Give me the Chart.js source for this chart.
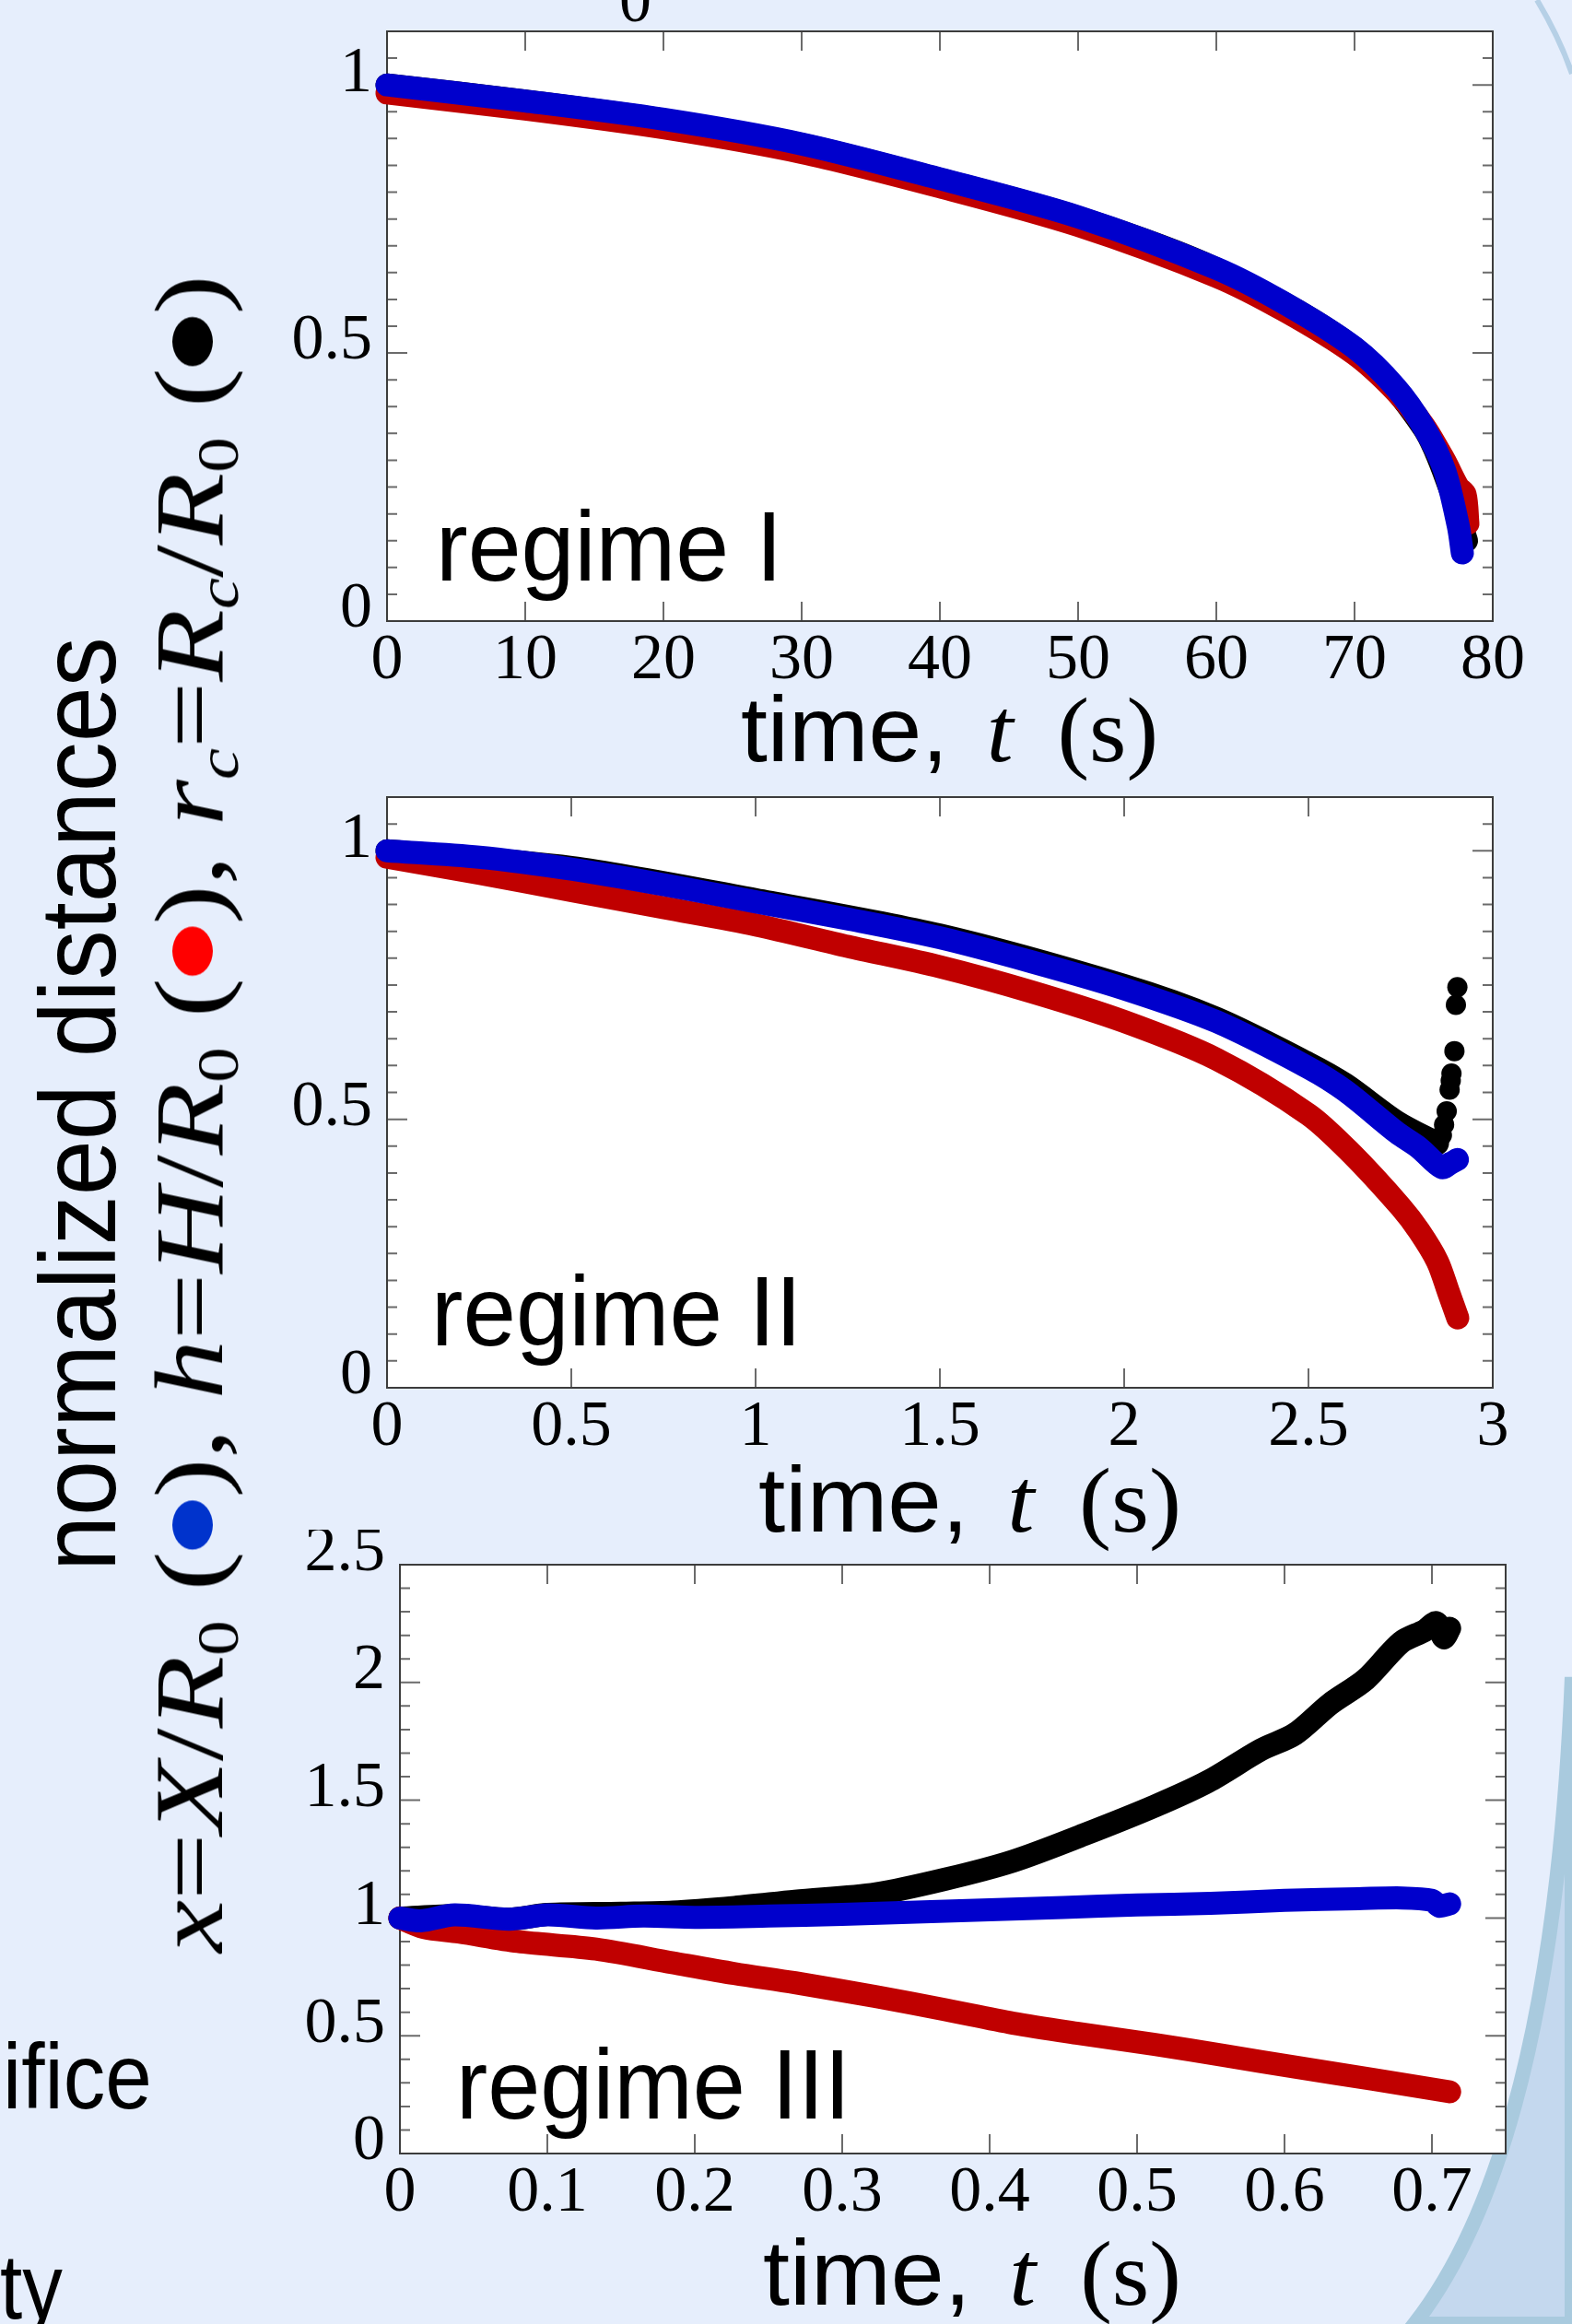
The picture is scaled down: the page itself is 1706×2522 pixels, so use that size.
<!DOCTYPE html>
<html>
<head>
<meta charset="utf-8">
<script src="https://cdn.jsdelivr.net/npm/chart.js@4.4.1/dist/chart.umd.min.js"></script>
<style>
  html, body { margin: 0; padding: 0; }
  body {
    width: 1706px; height: 2522px; position: relative; overflow: hidden;
    background: #e6eefc;
    font-family: "Liberation Sans", Arial, sans-serif;
  }
  canvas.panel { position: absolute; left: 0; }
  .txt { position: absolute; white-space: nowrap; line-height: 1; color: #000; transform-origin: 0 0; }
  .serif { font-family: "Liberation Serif", "DejaVu Serif", serif; }
  .rot { transform: rotate(-90deg); }
  .sub { font-size: 0.6em; vertical-align: -0.27em; line-height: 0; }
  .par { line-height: 0; }
  .dot { display: inline-block; width: 44px; height: 44px; border-radius: 50%; vertical-align: 10px; margin: 0 2px; }
  #deco { position: absolute; left: 0; top: 0; }
</style>
</head>
<body>

<svg id="deco" width="1706" height="2522">
  <path d="M1706,1820 Q1685,2330 1535,2522 L1706,2522 Z" fill="#c4d8ee" stroke="#a9cade" stroke-width="16"/>
  <path d="M1668,0 Q1692,40 1706,80" fill="none" stroke="#b6d0e6" stroke-width="6"/>
</svg>

<canvas id="c1" class="panel" style="top:0px" width="1706" height="780"></canvas>
<canvas id="c2" class="panel" style="top:830px" width="1706" height="780"></canvas>
<canvas id="c3" class="panel" style="top:1660px" width="1706" height="780"></canvas>

<!-- cut-off bits of the poster around the figure -->
<div class="txt serif" style="left:672px; top:-35px; font-size:70px;">0</div>
<div class="txt" id="ifice" style="left:3px; top:2203px; font-size:100px;">ifice</div>
<div class="txt" id="ty" style="left:0px; top:2431px; font-size:100px;">ty</div>

<!-- rotated y labels -->
<div class="txt rot" id="ylab1" style="left:27px; top:1705px; font-size:116px;">normalized distances</div>
<div class="txt rot serif" id="ylab2" style="left:153px; top:2119px; font-size:106px;"><i>x</i>=<i>X</i>/<i>R</i><span class="sub">0</span>&nbsp;<span class="par">(</span><span class="dot" style="background:#0033cc"></span><span class="par">)</span>, <i>h</i>=<i>H</i>/<i>R</i><span class="sub">0</span>&nbsp;<span class="par">(</span><span class="dot" style="background:#ff0000"></span><span class="par">)</span>, <i>r</i><span class="sub"><i>c</i></span>=<i>R</i><span class="sub"><i>c</i></span>/<i>R</i><span class="sub">0</span>&nbsp;<span class="par">(</span><span class="dot" style="background:#000000"></span><span class="par">)</span></div>

<!-- x titles -->
<div class="txt" id="xt1" style="left:804px; top:741px; font-size:100px;">time,<span class="serif" style="margin-left:40px"><i>t</i></span><span class="serif" style="margin-left:46px">(s)</span></div>
<div class="txt" id="xt2" style="left:823px; top:1577px; font-size:100px;">time,<span class="serif" style="margin-left:40px"><i>t</i></span><span class="serif" style="margin-left:46px">(s)</span></div>
<div class="txt" id="xt3" style="left:828px; top:2416px; font-size:100px;">time,<span class="serif" style="margin-left:40px"><i>t</i></span><span class="serif" style="margin-left:46px">(s)</span></div>

<!-- regime labels -->
<div class="txt" id="rg1" style="left:473px; top:539px; font-size:108px;">regime I</div>
<div class="txt" id="rg2" style="left:468px; top:1369px; font-size:108px;">regime II</div>
<div class="txt" id="rg3" style="left:495px; top:2208px; font-size:108px;">regime III</div>

<script>
// ---- regime I (t up to ~78 s) ----
const T1_BLUE  = [0, 10, 20, 30, 40, 50, 60, 65, 70, 73, 75, 76.5, 77.5, 77.8];
const V1_BLUE  = [1.0, 0.970, 0.936, 0.890, 0.825, 0.754, 0.658, 0.592, 0.510, 0.435, 0.362, 0.282, 0.178, 0.127];
const T1_RED   = [0, 10, 20, 30, 40, 50, 60, 65, 70, 73, 75, 76.5, 77.5, 78.0, 78.2];
const V1_RED   = [0.985, 0.955, 0.920, 0.874, 0.810, 0.738, 0.643, 0.578, 0.498, 0.428, 0.365, 0.300, 0.250, 0.236, 0.182];
const T1_BLACK = [0, 10, 20, 30, 40, 50, 60, 70, 75, 77, 78.1];
const V1_BLACK = [1.0, 0.970, 0.935, 0.889, 0.824, 0.753, 0.657, 0.509, 0.360, 0.240, 0.150];

// ---- regime II (t up to ~2.9 s) ----
const T2_BLUE  = [0, 0.25, 0.5, 0.75, 1.0, 1.25, 1.5, 1.75, 2.0, 2.25, 2.5, 2.6, 2.74, 2.8, 2.862, 2.885, 2.904];
const V2_BLUE  = [1.0, 0.988, 0.966, 0.937, 0.905, 0.873, 0.838, 0.793, 0.743, 0.682, 0.596, 0.553, 0.475, 0.447, 0.410, 0.418, 0.425];
const T2_RED   = [0, 0.25, 0.5, 0.75, 1.0, 1.25, 1.5, 1.75, 2.0, 2.25, 2.5, 2.617, 2.75, 2.8, 2.85, 2.88, 2.905];
const V2_RED   = [0.988, 0.958, 0.926, 0.894, 0.862, 0.822, 0.784, 0.737, 0.682, 0.612, 0.509, 0.436, 0.337, 0.292, 0.235, 0.178, 0.130];
const T2_BLACK = [0, 0.5, 1.0, 1.5, 2.0, 2.25, 2.5, 2.6, 2.74, 2.85];
const V2_BLACK = [1.0, 0.969, 0.909, 0.843, 0.749, 0.688, 0.604, 0.565, 0.495, 0.455];
const T2_BLACK_DOTS = [2.862, 2.868, 2.875, 2.883, 2.886, 2.888, 2.896, 2.9, 2.904];
const V2_BLACK_DOTS = [0.470, 0.490, 0.515, 0.555, 0.572, 0.585, 0.627, 0.713, 0.746];

// ---- regime III (t up to ~0.71 s) ----
const T3_BLUE  = [0, 0.014, 0.037, 0.074, 0.1, 0.133, 0.165, 0.2, 0.25, 0.3, 0.35, 0.4, 0.45, 0.5, 0.55, 0.6, 0.65, 0.68, 0.7, 0.705, 0.712];
const V3_BLUE  = [1.0, 0.988, 1.013, 0.995, 1.013, 1.0, 1.008, 1.003, 1.008, 1.015, 1.025, 1.035, 1.045, 1.055, 1.062, 1.075, 1.082, 1.085, 1.075, 1.05, 1.06];
const T3_RED   = [0, 0.016, 0.04, 0.08, 0.133, 0.185, 0.227, 0.268, 0.323, 0.37, 0.416, 0.46, 0.512, 0.56, 0.607, 0.66, 0.712];
const V3_RED   = [1.0, 0.96, 0.94, 0.90, 0.868, 0.81, 0.764, 0.725, 0.666, 0.61, 0.553, 0.51, 0.463, 0.415, 0.367, 0.315, 0.262];
const T3_BLACK = [0, 0.04, 0.074, 0.1, 0.15, 0.185, 0.227, 0.268, 0.323, 0.37, 0.416, 0.464, 0.512, 0.548, 0.584, 0.607, 0.631, 0.655, 0.679, 0.695, 0.703, 0.708, 0.712];
const V3_BLACK = [1.0, 1.01, 0.995, 1.015, 1.02, 1.025, 1.045, 1.071, 1.103, 1.165, 1.242, 1.354, 1.475, 1.579, 1.714, 1.781, 1.909, 2.013, 2.17, 2.22, 2.254, 2.19, 2.23];

// tick values
const X_TICKS_1 = [0, 10, 20, 30, 40, 50, 60, 70, 80];
const X_TICKS_2 = [0, 0.5, 1, 1.5, 2, 2.5, 3];
const X_TICKS_3 = [0, 0.1, 0.2, 0.3, 0.4, 0.5, 0.6, 0.7];
const Y_TICKS_1 = [0, 0.5, 1];
const Y_TICKS_3 = [0, 0.5, 1, 1.5, 2, 2.5];

const BLUE = '#0000cc';
const RED = '#c00000';
const BLACK = '#000000';
const TICK_FONT = { family: "'Liberation Serif', 'DejaVu Serif', serif", size: 70, lineHeight: 1 };
const Y_AXIS_W = 120;
const BAND_W = 25;

function pts(ts, vs) {
  return ts.map((t, i) => ({ x: t, y: vs[i] }));
}

function band(ts, vs, color) {
  return {
    data: pts(ts, vs),
    showLine: true,
    borderColor: color,
    borderWidth: BAND_W,
    borderCapStyle: 'round',
    borderJoinStyle: 'round',
    tension: 0.3,
    pointRadius: 0,
    clip: false
  };
}

// white plot area, inward ticks on all four sides, frame
const axesFrame = {
  id: 'axesFrame',
  beforeDatasetsDraw(chart, args, opts) {
    const { ctx, chartArea: a } = chart;
    const xs = chart.scales.x, ys = chart.scales.y;
    ctx.save();
    ctx.fillStyle = '#ffffff';
    ctx.fillRect(a.left, a.top, a.right - a.left, a.bottom - a.top);

    ctx.strokeStyle = '#6b6b6b';
    ctx.lineWidth = 2;
    ctx.beginPath();
    xs.ticks.forEach(t => {
      const px = xs.getPixelForValue(t.value);
      ctx.moveTo(px, a.bottom); ctx.lineTo(px, a.bottom - 21);
      ctx.moveTo(px, a.top); ctx.lineTo(px, a.top + 21);
    });
    const n = Math.round((ys.max - ys.min) / opts.minor);
    for (let i = 0; i <= n; i++) {
      const v = ys.min + i * opts.minor;
      const py = ys.getPixelForValue(v);
      const r = v / opts.major;
      const len = Math.abs(r - Math.round(r)) < 1e-6 ? 22 : 11;
      ctx.moveTo(a.left, py); ctx.lineTo(a.left + len, py);
      ctx.moveTo(a.right, py); ctx.lineTo(a.right - len, py);
    }
    ctx.stroke();

    ctx.strokeStyle = '#3c3c3c';
    ctx.lineWidth = 2;
    ctx.strokeRect(a.left, a.top, a.right - a.left, a.bottom - a.top);
    ctx.restore();
  }
};

function makePanel(id, p) {
  const canvas = document.getElementById(id);
  const cTop = parseFloat(canvas.style.top);
  const W = canvas.width, H = canvas.height;
  const xH = H - (p.bottom - cTop);
  return new Chart(canvas.getContext('2d'), {
    type: 'scatter',
    data: { datasets: p.datasets },
    plugins: [axesFrame],
    options: {
      responsive: false,
      animation: false,
      devicePixelRatio: 1,
      layout: {
        autoPadding: false,
        padding: { left: p.left - Y_AXIS_W, top: p.top - cTop, right: W - p.right, bottom: 0 }
      },
      plugins: {
        legend: { display: false },
        tooltip: { enabled: false },
        axesFrame: { minor: p.minor, major: 0.5 }
      },
      scales: {
        x: {
          type: 'linear', min: p.xmin, max: p.xmax,
          grid: { display: false, drawTicks: false },
          border: { display: false },
          ticks: { font: TICK_FONT, color: '#000', padding: 9, autoSkip: false, maxRotation: 0, minRotation: 0,
                   callback: v => String(v) },
          afterBuildTicks: s => { s.ticks = p.xTicks.map(v => ({ value: v })); },
          afterFit: s => { s.height = xH; s.paddingLeft = 0; s.paddingRight = 0; }
        },
        y: {
          type: 'linear', min: p.ymin, max: p.ymax,
          grid: { display: false, drawTicks: false },
          border: { display: false },
          ticks: { font: TICK_FONT, color: '#000', padding: 16, labelOffset: -12, autoSkip: false,
                   callback: v => String(v) },
          afterBuildTicks: s => { s.ticks = p.yTicks.map(v => ({ value: v })); },
          afterFit: s => { s.width = Y_AXIS_W; s.paddingTop = 0; s.paddingBottom = 0; }
        }
      }
    }
  });
}

makePanel('c1', {
  left: 420, right: 1620, top: 34, bottom: 674,
  xmin: 0, xmax: 80, ymin: 0, ymax: 1.1, minor: 0.05,
  xTicks: X_TICKS_1, yTicks: Y_TICKS_1,
  datasets: [band(T1_BLUE, V1_BLUE, BLUE), band(T1_RED, V1_RED, RED), band(T1_BLACK, V1_BLACK, BLACK)]
});

makePanel('c2', {
  left: 420, right: 1620, top: 865, bottom: 1506,
  xmin: 0, xmax: 3, ymin: 0, ymax: 1.1, minor: 0.05,
  xTicks: X_TICKS_2, yTicks: Y_TICKS_1,
  datasets: [
    band(T2_BLUE, V2_BLUE, BLUE),
    band(T2_RED, V2_RED, RED),
    band(T2_BLACK, V2_BLACK, BLACK),
    { data: pts(T2_BLACK_DOTS, V2_BLACK_DOTS), pointRadius: 11, pointBackgroundColor: BLACK,
      pointBorderWidth: 0, showLine: false, clip: false }
  ]
});

makePanel('c3', {
  left: 434, right: 1634, top: 1698, bottom: 2337,
  xmin: 0, xmax: 0.75, ymin: 0, ymax: 2.5, minor: 0.1,
  xTicks: X_TICKS_3, yTicks: Y_TICKS_3,
  datasets: [band(T3_BLUE, V3_BLUE, BLUE), band(T3_RED, V3_RED, RED), band(T3_BLACK, V3_BLACK, BLACK)]
});

// stretch/squeeze texts to the lengths they have on the poster
function fit(id, target, rotated) {
  const el = document.getElementById(id);
  const k = target / el.offsetWidth;
  el.style.transform = (rotated ? 'rotate(-90deg) ' : '') + 'scaleX(' + k + ')';
}
fit('ylab1', 1014, true);
fit('ylab2', 1821, true);
fit('xt1', 453, false);
fit('xt2', 459, false);
fit('xt3', 454, false);
fit('rg1', 376, false);
fit('rg2', 402, false);
fit('rg3', 428, false);
fit('ifice', 162, false);
fit('ty', 68, false);
</script>
</body>
</html>
